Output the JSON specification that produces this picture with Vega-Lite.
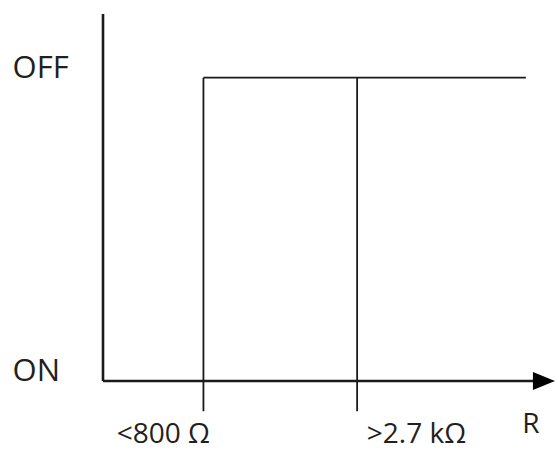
{
  "$schema": "https://vega.github.io/schema/vega-lite/v6.json",
  "width": 452,
  "height": 367,
  "autosize": "none",
  "padding": {"left": 103, "top": 14, "right": 0, "bottom": 70},
  "background": "white",
  "config": {"view": {"stroke": null}},
  "datasets": {
    "axes": [
      {"x": 0, "y": 0, "x2": 0, "y2": 1.21},
      {"x": 0, "y": 0, "x2": 4.3, "y2": 0}
    ],
    "step": [
      {"x": 1.0, "y": -0.1, "x2": 1.0, "y2": 1},
      {"x": 1.0, "y": 1, "x2": 4.21, "y2": 1},
      {"x": 2.53, "y": -0.1, "x2": 2.53, "y2": 1}
    ],
    "arrow": [{"x": 4.39, "y": 0}],
    "state": [
      {"label": "OFF", "x": -0.9, "y": 1, "k": "off"},
      {"label": "ON", "x": -0.9, "y": 0, "k": "on"}
    ],
    "ticks": [
      {"label": "<800 Ω", "x": 0.6, "y": -0.204},
      {"label": ">2.7 kΩ", "x": 3.12, "y": -0.204},
      {"label": "R", "x": 4.26, "y": -0.171}
    ]
  },
  "layer": [
    {
      "data": {"name": "axes"},
      "mark": {"type": "rule", "color": "#1a1a1a", "strokeWidth": 2.6, "clip": false},
      "encoding": {
        "x": {"field": "x", "type": "quantitative", "scale": {"domain": [0, 4.5], "nice": false, "zero": false}, "axis": null},
        "x2": {"field": "x2"},
        "y": {"field": "y", "type": "quantitative", "scale": {"domain": [0, 1.21], "nice": false, "zero": false}, "axis": null},
        "y2": {"field": "y2"}
      }
    },
    {
      "data": {"name": "step"},
      "mark": {"type": "rule", "color": "#1a1a1a", "strokeWidth": 1.8, "clip": false},
      "encoding": {
        "x": {"field": "x", "type": "quantitative"},
        "x2": {"field": "x2"},
        "y": {"field": "y", "type": "quantitative"},
        "y2": {"field": "y2"}
      }
    },
    {
      "data": {"name": "arrow"},
      "mark": {"type": "point", "shape": "M -1 -0.82 L 1 0 L -1 0.82 Z", "size": 484, "filled": true, "color": "#000000", "opacity": 1, "clip": false},
      "encoding": {
        "x": {"field": "x", "type": "quantitative"},
        "y": {"field": "y", "type": "quantitative"}
      }
    },
    {
      "data": {"name": "state"},
      "mark": {"type": "text", "align": "left", "baseline": "alphabetic", "font": "Open Sans", "fontSize": 31, "color": "#231f20", "clip": false},
      "encoding": {
        "x": {"field": "x", "type": "quantitative"},
        "y": {"field": "y", "type": "quantitative"},
        "text": {"field": "label"},
        "yOffset": {"field": "k", "type": "nominal", "scale": {"domain": ["off", "on"], "range": [6, 1]}, "legend": null}
      }
    },
    {
      "data": {"name": "ticks"},
      "mark": {"type": "text", "align": "center", "baseline": "alphabetic", "font": "Open Sans", "fontSize": 28, "color": "#231f20", "clip": false},
      "encoding": {
        "x": {"field": "x", "type": "quantitative"},
        "y": {"field": "y", "type": "quantitative"},
        "text": {"field": "label"}
      }
    }
  ]
}
